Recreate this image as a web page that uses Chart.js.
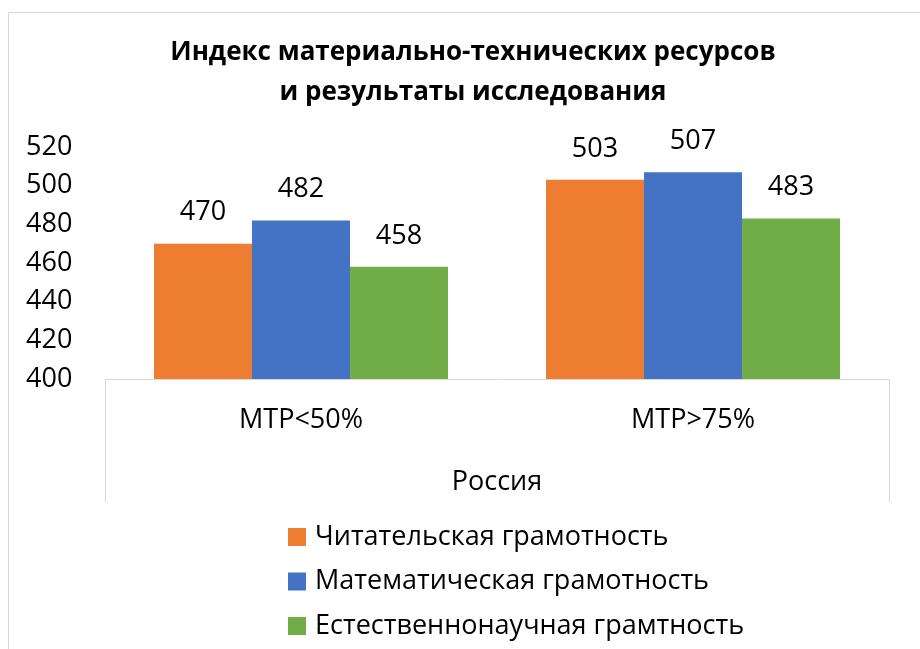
<!DOCTYPE html>
<html>
<head>
<meta charset="utf-8">
<script src="https://cdn.jsdelivr.net/npm/chart.js@4.4.0/dist/chart.umd.min.js"></script>
<style>
    body { margin: 0; background: #fff; overflow: hidden; }
    .ramka { position: absolute; left: 8px; top: 12px; width: 1000px; height: 1000px; border: 1px solid #d9d9d9; }
    #miGrafica { position: absolute; left: 0; top: 0; }
</style>
</head>
<body>
<div class="ramka"></div>
<canvas id="miGrafica" width="920" height="649"></canvas>
<script>
// Datos del gráfico
const categorias = ['МТР<50%', 'МТР>75%'];
const grupo = 'Россия';
const titulo = ['Индекс материально-технических ресурсов', 'и результаты исследования'];
const series = ['Читательская грамотность', 'Математическая грамотность', 'Естественнонаучная грамтность'];
const lectura = [470, 503];
const matematica = [482, 507];
const ciencias = [458, 483];
const ejeMin = 400;
const ejeMax = 520;
const ejePaso = 20;

const colores = ['#ED7D31', '#4472C4', '#70AD47'];
const fuente = "'Open Sans', sans-serif";
const gris = '#d9d9d9';
const tam = 27;

// Etiquetas de valores encima de las barras
const etiquetasValor = {
    id: 'etiquetasValor',
    afterDatasetsDraw(chart) {
        const ctx = chart.ctx;
        ctx.save();
        ctx.font = `${tam}px ${fuente}`;
        ctx.fillStyle = '#000';
        ctx.textAlign = 'center';
        ctx.textBaseline = 'middle';
        chart.data.datasets.forEach((ds, i) => {
            const meta = chart.getDatasetMeta(i);
            meta.data.forEach((bar, j) => {
                ctx.fillText(ds.data[j], bar.x, bar.y - 31);
            });
        });
        ctx.restore();
    }
};

// Leyenda vertical abajo
const leyendaVertical = {
    id: 'leyendaVertical',
    afterDraw(chart) {
        const ctx = chart.ctx;
        const x = 288;
        let y = 537;
        ctx.save();
        ctx.font = `${tam}px ${fuente}`;
        ctx.textAlign = 'left';
        ctx.textBaseline = 'middle';
        chart.data.datasets.forEach((ds) => {
            ctx.fillStyle = ds.backgroundColor;
            ctx.fillRect(x, y - 9, 18, 18);
            ctx.fillStyle = '#000';
            ctx.fillText(ds.label, x + 27, y);
            y += 44.5;
        });
        ctx.restore();
    }
};

const ctx = document.getElementById('miGrafica').getContext('2d');

const dataset = {
    labels: categorias,
    datasets: [
        { label: series[0], data: lectura, backgroundColor: colores[0] },
        { label: series[1], data: matematica, backgroundColor: colores[1] },
        { label: series[2], data: ciencias, backgroundColor: colores[2] },
    ],
};

const options = {
    responsive: false,
    animation: false,
    layout: {
        padding: { left: 57, right: 31, top: 0, bottom: 146 },
    },
    datasets: {
        bar: {
            categoryPercentage: 0.75,
            barPercentage: 1.0,
            borderWidth: 0,
        },
    },
    scales: {
        x: {
            offset: true,
            border: { display: true, color: gris, width: 1 },
            grid: {
                offset: true,
                drawOnChartArea: false,
                drawTicks: true,
                tickLength: 123,
                color: (c) => (c.index === 1 ? 'rgba(0,0,0,0)' : gris),
            },
            ticks: {
                color: '#000',
                font: { family: fuente, size: tam },
                padding: -98.2,
                maxRotation: 0,
            },
            title: {
                display: true,
                text: grupo,
                color: '#000',
                font: { family: fuente, size: tam },
                padding: { top: 0, bottom: 4 },
            },
            afterFit: (scale) => { scale.height = 124; },
        },
        y: {
            min: ejeMin,
            max: ejeMax,
            border: { display: false },
            grid: { display: false },
            ticks: {
                stepSize: ejePaso,
                color: '#000',
                font: { family: fuente, size: tam },
                mirror: true,
                crossAlign: 'near',
                padding: -79,
            },
            afterFit: (scale) => { scale.width = 48; },
        },
    },
    plugins: {
        legend: { display: false },
        tooltip: { enabled: false },
        title: {
            display: true,
            text: titulo,
            color: '#000',
            font: { family: fuente, size: 26, weight: 'bold', lineHeight: '40px' },
            padding: { top: 33, bottom: 34 },
        },
    },
};

window.myChart = new Chart(ctx, {
    type: 'bar',
    data: dataset,
    options: options,
    plugins: [etiquetasValor, leyendaVertical],
});
</script>
</body>
</html>
